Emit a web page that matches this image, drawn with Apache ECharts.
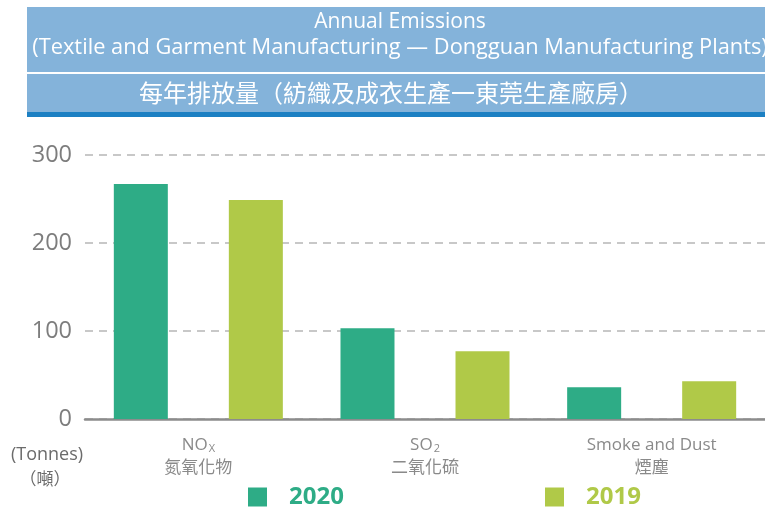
<!DOCTYPE html>
<html>
<head>
<meta charset="utf-8">
<script src="https://cdn.jsdelivr.net/npm/echarts@6/dist/echarts.min.js"></script>
<style>
  html, body { margin: 0; padding: 0; background: #fff; }
  #container { width: 765px; height: 508px; }
</style>
</head>
<body>
<div id="container"></div>
<script>
var labelMain = ['NO', 'SO', 'Smoke and Dust'];
var labelSub = ['X', '2', ''];
var labelZh = ['氮氧化物', '二氧化硫', '煙塵'];
var categories = labelMain.map(function (m, i) { return m + labelSub[i]; });
var values2020 = [267, 103, 36];
var values2019 = [249, 77, 43];
var yTicks = [0, 100, 200, 300];

var green = '#2eac86';
var lime = '#b0c948';
var latin = "'Open Sans', 'Noto Sans CJK TC', sans-serif";
var cjk = "'Noto Sans CJK TC', sans-serif";

var dom = document.getElementById('container');
var myChart = echarts.init(dom, null, { renderer: 'canvas' });

function legendFor(name, color, left) {
  return {
    left: left,
    top: 480,
    icon: 'rect',
    itemWidth: 19,
    itemHeight: 19,
    selectedMode: false,
    data: [name],
    formatter: function (n) { return '{t|' + n + '}'; },
    textStyle: {
      rich: {
        t: { color: color, fontSize: 24, fontWeight: 'bold', fontFamily: latin, padding: [0, 0, 0, 17] }
      }
    }
  };
}

var option = {
  animation: false,
  graphic: [
    { type: 'rect', shape: { x: 27, y: 7, width: 740, height: 105 }, style: { fill: '#84b3da' } },
    { type: 'rect', shape: { x: 27, y: 72, width: 740, height: 2 }, style: { fill: '#ffffff' } },
    { type: 'rect', shape: { x: 27, y: 112, width: 740, height: 5 }, style: { fill: '#1c80c3' } },
    { type: 'text', x: 400, y: 22, style: { text: 'Annual Emissions', fill: '#fff', font: '21px ' + latin, textAlign: 'center', textVerticalAlign: 'middle' } },
    { type: 'text', x: 400, y: 48, style: { text: '(Textile and Garment Manufacturing \u2014 Dongguan Manufacturing Plants)', fill: '#fff', font: '21.8px ' + latin, textAlign: 'center', textVerticalAlign: 'middle' } },
    { type: 'text', x: 391, y: 93, style: { text: '每年排放量（紡織及成衣生產一東莞生產廠房）', fill: '#fff', font: '24px ' + cjk, textAlign: 'center', textVerticalAlign: 'middle' } },
    { type: 'text', x: 47, y: 455, style: { text: '(Tonnes)', fill: '#6b6b6b', font: '500 18px ' + latin, textAlign: 'center', textVerticalAlign: 'middle' } },
    { type: 'text', x: 45, y: 479, style: { text: '（噸）', fill: '#6b6b6b', font: '17px ' + cjk, textAlign: 'center', textVerticalAlign: 'middle' } }
  ],
  legend: [legendFor('2020', green, 243), legendFor('2019', lime, 540)],
  grid: { left: 85, right: -4, top: 155, bottom: 89 },
  xAxis: {
    type: 'category',
    data: categories,
    axisTick: { show: false },
    axisLine: { lineStyle: { color: '#8c8c8c', width: 2.5 } },
    axisLabel: {
      margin: 16,
      interval: 0,
      formatter: function (v, i) {
        var s = '{en|' + labelMain[i] + '}';
        if (labelSub[i]) s += '{sub|' + labelSub[i] + '}';
        return s + '\n{zh|' + labelZh[i] + '}';
      },
      rich: {
        en: { fontSize: 17, color: '#8a8a8a', fontFamily: latin, lineHeight: 21 },
        sub: { fontSize: 11, color: '#8a8a8a', fontFamily: latin, lineHeight: 21, verticalAlign: 'bottom', padding: [0, 0, 2, 1] },
        zh: { fontSize: 17, color: '#8a8a8a', fontFamily: cjk, lineHeight: 21 }
      }
    }
  },
  yAxis: {
    type: 'value',
    min: yTicks[0],
    max: yTicks[yTicks.length - 1],
    interval: 100,
    axisLine: { show: false },
    axisTick: { show: false },
    axisLabel: { margin: 13, fontSize: 23.5, color: '#7d7d7d', fontFamily: latin },
    splitLine: { lineStyle: { color: '#c8c8c8', width: 2, type: [8, 6] } }
  },
  series: [
    { name: '2020', type: 'bar', data: values2020, barWidth: 54, barGap: '113%', itemStyle: { color: green } },
    { name: '2019', type: 'bar', data: values2019, barWidth: 54, itemStyle: { color: lime } }
  ]
};

myChart.setOption(option);
window.addEventListener('resize', myChart.resize);
</script>
</body>
</html>
